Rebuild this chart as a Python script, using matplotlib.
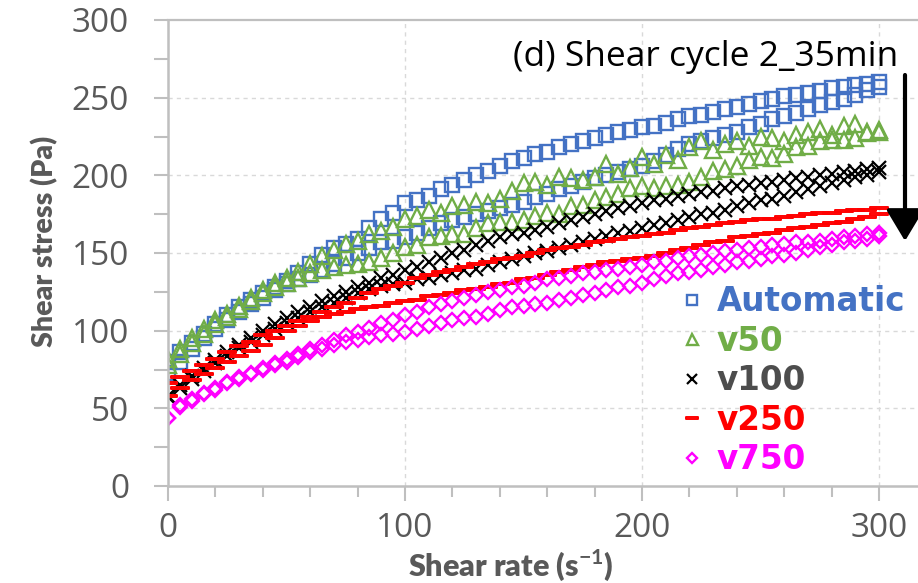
import matplotlib
matplotlib.use("Agg")
import matplotlib.pyplot as plt
from matplotlib.path import Path
from matplotlib.ticker import MultipleLocator

plt.rcParams["mathtext.fontset"] = "custom"
plt.rcParams["mathtext.rm"] = "Lato"
plt.rcParams["mathtext.bf"] = "Lato:bold"

# ---------------- data ----------------
shear_rate = [0, 5, 10, 15, 20, 25, 30, 35, 40, 45, 50, 55, 60, 65, 70, 75, 80, 85, 90, 95,
              100, 105, 110, 115, 120, 125, 130, 135, 140, 145, 150, 155, 160, 165, 170, 175,
              180, 185, 190, 195, 200, 205, 210, 215, 220, 225, 230, 235, 240, 245, 250, 255,
              260, 265, 270, 275, 280, 285, 290, 295, 300]

auto_upper = [80, 86, 92, 98, 104, 110, 115, 120, 124, 128, 132, 137, 143, 149, 153, 156, 159, 166, 172, 176,
              182, 184, 187, 191, 194, 197, 200, 203, 206, 209, 211, 214, 215, 218, 220, 222,
              224, 226, 228, 229, 231, 232, 234, 236, 238, 239, 241, 243, 244, 246, 248, 249,
              251, 252, 253, 254, 256, 257, 258, 259, 260]
auto_lower = [73, 80, 88, 95, 101, 107, 112, 117, 121, 126, 130, 133, 136, 139, 143, 147, 150, 153, 157, 158,
              160, 163, 166, 169, 171, 173, 175, 177, 179, 181, 183, 186, 188, 191, 193, 196,
              198, 200, 202, 204, 206, 209, 213, 217, 220, 222, 224, 226, 228, 231, 233, 236,
              238, 240, 243, 245, 247, 249, 252, 255, 257]

v50_upper = [82, 88, 95, 101, 107, 111, 116, 121, 126, 131, 134, 138, 143, 148, 152, 156, 158, 162, 164, 167,
             172, 174, 178, 176, 180, 181, 183, 182, 185, 190, 195, 196, 194, 199, 198, 197,
             199, 207, 201, 205, 212, 207, 213, 210, 218, 222, 216, 220, 222, 219, 225, 224,
             222, 226, 228, 230, 226, 232, 233, 228, 229]
v50_lower = [78, 85, 92, 98, 104, 109, 114, 119, 124, 128, 131, 134, 137, 139, 141, 142, 143, 144, 147, 150,
             154, 155, 160, 161, 162, 162, 166, 169, 170, 170, 171, 174, 176, 175, 180, 181,
             184, 186, 188, 192, 193, 192, 193, 194, 196, 199, 203, 204, 206, 210, 212, 211,
             214, 218, 219, 222, 223, 223, 224, 227, 228]

v100_upper = [58, 65, 71, 76, 81, 86, 91, 95, 100, 104, 108, 112, 115, 119, 122, 125, 128, 131, 134, 136,
              139, 141, 144, 147, 150, 152, 155, 158, 160, 162, 163, 165, 167, 169, 171, 173,
              175, 177, 179, 180, 182, 184, 185, 187, 188, 189, 190, 192, 193, 194, 195, 196,
              197, 198, 199, 200, 201, 202, 203, 204, 205]
v100_lower = [57, 63, 69, 74, 79, 84, 89, 93, 97, 101, 105, 108, 112, 115, 118, 121, 124, 127, 129, 130,
              131, 133, 134, 136, 137, 139, 140, 142, 144, 146, 148, 150, 151, 153, 155, 157,
              159, 161, 163, 164, 166, 168, 169, 171, 173, 175, 176, 178, 180, 182, 184, 185,
              187, 189, 191, 193, 195, 197, 199, 200, 202]

v250_upper = [66, 70, 74, 78, 82, 86, 90, 93, 97, 100, 103, 106, 109, 112, 115, 118, 121, 124, 127, 129,
              131, 134, 136, 138, 139, 141, 143, 144, 146, 147, 148, 150, 152, 153, 154, 155,
              157, 158, 159, 160, 161, 162, 163, 165, 166, 167, 168, 169, 170, 171, 172, 172,
              173, 174, 175, 176, 176, 177, 178, 178, 179]
v250_lower = [58, 63, 68, 72, 76, 80, 84, 87, 91, 95, 100, 103, 106, 109, 111, 112, 114, 115, 116, 118,
              119, 120, 122, 123, 124, 126, 127, 128, 130, 131, 133, 134, 136, 138, 139, 141,
              142, 144, 145, 146, 147, 148, 150, 152, 153, 155, 157, 158, 160, 161, 162, 163,
              165, 166, 167, 168, 169, 170, 172, 173, 175]

v750_upper = [44, 52, 56, 60, 63, 67, 70, 73, 76, 79, 82, 85, 88, 91, 94, 97, 99, 102, 105, 107,
              110, 112, 115, 117, 119, 121, 123, 125, 126, 128, 129, 131, 133, 134, 135, 137,
              138, 139, 140, 141, 142, 144, 145, 147, 148, 149, 150, 151, 152, 153, 154, 155,
              156, 157, 157, 158, 159, 160, 161, 162, 163]
v750_lower = [44, 51, 55, 59, 62, 66, 69, 72, 75, 78, 80, 83, 86, 88, 91, 93, 94, 96, 97, 98,
              99, 101, 103, 105, 107, 108, 109, 111, 113, 115, 116, 117, 118, 120, 121, 123,
              124, 126, 128, 129, 131, 133, 135, 137, 138, 139, 141, 142, 144, 145, 146, 148,
              149, 150, 152, 154, 155, 157, 158, 159, 161]

series_names = ["Automatic", "v50", "v100", "v250", "v750"]
x_ticks = [0, 100, 200, 300]
y_ticks = [0, 50, 100, 150, 200, 250, 300]
title_text = "(d) Shear cycle 2_35min"

# ---------------- style ----------------
blue = "#4472C4"
green = "#70AD47"
black = "#000000"
red = "#FF0000"
magenta = "#FF00FF"
gray_txt = "#595959"
axis_gray = "#BFBFBF"
grid_gray = "#D9D9D9"

dash_marker = Path([(-1, -0.17), (1, -0.17), (1, 0.17), (-1, 0.17), (-1, -0.17)],
                   [Path.MOVETO, Path.LINETO, Path.LINETO, Path.LINETO, Path.CLOSEPOLY])

styles = [
    dict(marker="s", ms=10, mec=blue, mew=1.7),
    dict(marker="^", ms=11, mec=green, mew=1.7),
    dict(marker="x", ms=9.5, mec=black, mew=1.6),
    dict(marker=dash_marker, ms=12.5, mec=red, mew=1.4),
    dict(marker="D", ms=7.5, mec=magenta, mew=1.7),
]
label_colors = [blue, green, "#4D4D4D", red, magenta]

pairs = [(auto_upper, auto_lower), (v50_upper, v50_lower), (v100_upper, v100_lower),
         (v250_upper, v250_lower), (v750_upper, v750_lower)]

fig = plt.figure(figsize=(9.18, 5.83), dpi=100)
W, H = 918, 583
left_px, right_px, top_px, bot_px = 168, 917, 20, 486
ax = fig.add_axes([left_px / W, (H - bot_px) / H, (right_px - left_px) / W, (bot_px - top_px) / H])


def fx(px):
    return (px - left_px) / (right_px - left_px)


def fy(py):
    return (bot_px - py) / (bot_px - top_px)


handles = []
for (up, lo), st, name in zip(pairs, styles, series_names):
    h, = ax.plot(shear_rate, up, linestyle="none", mfc="none", label=name, **st)
    ax.plot(shear_rate, lo, linestyle="none", mfc="none", **st)
    handles.append(h)

ax.set_xlim(0, 316)
ax.set_ylim(0, 300)
ax.set_xticks(x_ticks)
ax.set_yticks(y_ticks)
ax.xaxis.set_minor_locator(MultipleLocator(20))
ax.yaxis.set_minor_locator(MultipleLocator(25))

for s in ["right", "top"]:
    ax.spines[s].set_visible(False)
for s in ["left", "bottom"]:
    ax.spines[s].set_color(axis_gray)
    ax.spines[s].set_linewidth(1.8)

ax.tick_params(which="both", direction="out", color=axis_gray, width=1.5)
ax.tick_params(axis="y", which="major", length=10, pad=18)
ax.tick_params(axis="y", which="minor", length=10)
ax.tick_params(axis="x", which="major", length=11, pad=8)
ax.tick_params(axis="x", which="minor", length=8)

for lab in ax.get_xticklabels() + ax.get_yticklabels():
    lab.set_fontfamily(["Open Sans", "DejaVu Sans"])
    lab.set_fontsize(24)
    lab.set_color(gray_txt)

# grid
for gy in y_ticks[1:-1]:
    ax.axhline(gy, color=grid_gray, lw=1.0, ls=(0, (3, 3)), zorder=0)
ax.axhline(y_ticks[-1], color=axis_gray, lw=1.6, zorder=0, clip_on=False)
for gx in x_ticks[1:]:
    ax.axvline(gx, color=grid_gray, lw=1.0, ls=(0, (3, 3)), zorder=0)

ax.set_xlabel(r"Shear rate (s$^{\mathbf{-1}}$)", fontfamily=["Lato", "DejaVu Sans"],
              fontweight="heavy", fontsize=22, color=gray_txt)
ax.set_ylabel("Shear stress (Pa)", fontfamily=["Lato", "DejaVu Sans"],
              fontweight="heavy", fontsize=20.5, color=gray_txt)
ax.xaxis.set_label_coords(fx(511), fy(548))
ax.yaxis.set_label_coords(fx(58), fy(241))

ax.text(fx(513), fy(57), title_text,
        transform=ax.transAxes, ha="left", va="center", fontsize=25.5,
        fontfamily=["Open Sans", "DejaVu Sans"], color="black")

ax.annotate("", xy=(fx(905), fy(241)), xytext=(fx(905), fy(75)),
            xycoords="axes fraction", textcoords="axes fraction",
            arrowprops=dict(arrowstyle="-|>,head_length=0.55,head_width=0.33", lw=3,
                            color="black", mutation_scale=35, shrinkA=0, shrinkB=0))

leg = ax.legend(handles=handles, loc="upper left",
                bbox_to_anchor=(fx(676), fy(285)),
                frameon=False, handlelength=1.0, handletextpad=0.25, labelspacing=0.2,
                borderpad=0, borderaxespad=0, markerscale=0.72,
                prop=dict(family="DejaVu Sans", weight="bold", size=23.5),
                labelcolor=label_colors)

fig.savefig("out.png", dpi=100)
